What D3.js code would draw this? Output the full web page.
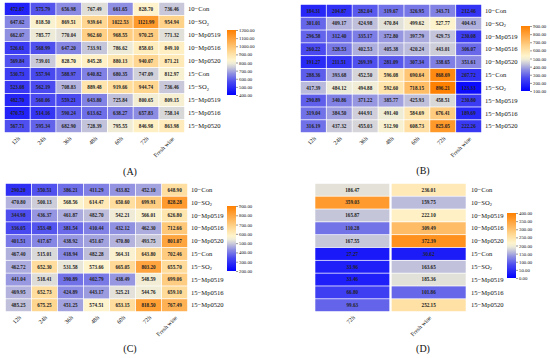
<!DOCTYPE html>
<html>
<head>
<meta charset="utf-8">
<script src="https://cdn.jsdelivr.net/npm/d3@7"></script>
<style>
  body { margin: 0; background: #fff; }
  text { font-family: "Liberation Serif", "DejaVu Serif", serif; fill: #111; }
</style>
</head>
<body>
<div id="chart"></div>
<script>
var rows = ["10-Con", "10-SO2", "10-Mp0519", "10-Mp0516", "10-Mp0520",
            "15-Con", "15-SO2", "15-Mp0519", "15-Mp0516", "15-Mp0520"];
var cols = ["12h", "24h", "36h", "48h", "60h", "72h", "Fresh wine"];
var colsD = ["72h", "Fresh wine"];

var valuesA = [
  [472.07, 575.79, 656.98, 767.49, 661.65, 828.70, 736.46],
  [647.62, 818.50, 869.51, 939.64, 1022.53, 1121.99, 954.94],
  [662.07, 785.77, 770.04, 962.60, 968.55, 970.25, 771.32],
  [526.61, 568.99, 647.20, 733.91, 786.62, 858.03, 849.10],
  [569.84, 739.01, 828.70, 845.28, 880.13, 940.07, 871.21],
  [530.73, 557.94, 588.97, 640.82, 680.35, 747.09, 812.97],
  [523.08, 562.19, 708.83, 889.48, 919.66, 944.74, 736.46],
  [482.70, 560.06, 559.21, 643.80, 725.84, 800.65, 809.15],
  [470.73, 514.16, 590.24, 613.62, 638.27, 657.83, 758.14],
  [567.71, 595.34, 682.90, 728.39, 795.55, 846.98, 863.98]
];
var valuesB = [
  [184.31, 204.87, 282.04, 319.67, 326.95, 343.71, 212.46],
  [301.01, 409.17, 424.98, 470.84, 499.62, 527.77, 404.43],
  [296.58, 312.40, 335.17, 372.80, 397.79, 429.73, 230.08],
  [260.22, 328.53, 402.53, 405.38, 420.24, 443.01, 306.07],
  [191.27, 211.51, 269.39, 281.09, 307.34, 338.65, 351.61],
  [288.36, 393.68, 452.50, 596.08, 690.64, 868.69, 207.72],
  [417.39, 484.12, 494.88, 592.60, 718.15, 896.21, 123.33],
  [290.89, 340.86, 371.22, 385.77, 425.93, 458.51, 230.80],
  [319.04, 384.50, 444.91, 491.40, 584.69, 676.41, 189.69],
  [316.19, 437.32, 455.03, 512.90, 608.73, 825.05, 222.26]
];
var valuesC = [
  [290.20, 350.51, 386.21, 411.29, 433.82, 452.10, 648.90],
  [470.80, 500.13, 568.56, 614.47, 650.60, 699.91, 828.28],
  [344.98, 436.37, 461.87, 482.70, 542.21, 566.01, 626.80],
  [336.05, 353.48, 381.54, 410.44, 432.12, 462.30, 712.66],
  [401.51, 417.67, 438.92, 451.67, 470.80, 493.75, 801.07],
  [467.40, 515.01, 418.94, 482.28, 564.31, 643.80, 702.46],
  [462.72, 652.30, 531.58, 573.66, 665.05, 803.20, 655.70],
  [441.04, 518.41, 390.89, 402.79, 438.49, 548.59, 699.06],
  [469.95, 652.73, 424.89, 443.17, 525.21, 544.76, 659.10],
  [485.25, 675.25, 451.25, 574.51, 653.15, 818.50, 767.49]
];
var valuesD = [
  [186.47, 236.01],
  [359.03, 159.75],
  [165.87, 222.10],
  [110.28, 309.49],
  [167.55, 372.39],
  [27.27, 30.62],
  [33.96, 163.65],
  [33.46, 185.36],
  [66.80, 101.86],
  [99.63, 252.15]
];
var ticksA = [400, 500, 600, 700, 800, 900, 1000, 1100, 1200];
var ticksB = [100, 200, 300, 400, 500, 600, 700, 800, 900];
var ticksC = [200, 300, 400, 500, 600, 700, 800, 900];
var ticksD = [0, 50, 100, 150, 200, 250, 300, 350, 400];

// blue -> grey -> cream -> orange
var stops = [
  [0.00, "#0000ff"],
  [0.20, "#4a4af0"],
  [0.33, "#9090e2"],
  [0.42, "#c8c8da"],
  [0.48, "#ecead8"],
  [0.54, "#fff4cc"],
  [0.68, "#ffd690"],
  [0.84, "#ffaa48"],
  [1.00, "#ff8000"]
];

var svg = d3.select("#chart").append("svg")
    .attr("width", 550)
    .attr("height", 358);

var defs = svg.append("defs");

function drawPanel(p) {
    var g = svg.append("g");
    var min = p.ticks[0], max = p.ticks[p.ticks.length - 1];
    var color = d3.scaleLinear()
        .domain(stops.map(function (s) { return min + s[0] * (max - min); }))
        .range(stops.map(function (s) { return s[1]; }))
        .interpolate(d3.interpolateRgb)
        .clamp(true);

    var x = d3.scaleBand().domain(p.cols).range([p.x0, p.x1]).padding(0.03);
    var y = d3.scaleBand().domain(rows).range([p.y0, p.y1]).padding(0.06);

    var cells = [];
    p.values.forEach(function (r, i) {
        r.forEach(function (v, j) { cells.push({ row: rows[i], col: p.cols[j], v: v }); });
    });

    g.selectAll(".cell")
        .data(cells)
        .enter().append("rect")
        .attr("class", "cell")
        .attr("x", function (d) { return x(d.col); })
        .attr("y", function (d) { return y(d.row); })
        .attr("width", x.bandwidth())
        .attr("height", y.bandwidth())
        .attr("fill", function (d) { return color(d.v); });

    g.selectAll(".val")
        .data(cells)
        .enter().append("text")
        .attr("class", "val")
        .attr("x", function (d) { return x(d.col) + x.bandwidth() / 2; })
        .attr("y", function (d) { return y(d.row) + y.bandwidth() / 2 + 1.8; })
        .attr("text-anchor", "middle")
        .attr("font-size", 5.2)
        .attr("font-weight", "bold")
        .style("fill", "#222")
        .text(function (d) { return d.v.toFixed(2); });

    // row labels
    var rl = g.selectAll(".rowlab")
        .data(rows)
        .enter().append("text")
        .attr("class", "rowlab")
        .attr("x", p.x1 + 3)
        .attr("y", function (d) { return y(d) + y.bandwidth() / 2 + 2.2; })
        .attr("font-size", 6.6);
    rl.each(function (d) {
        var t = d3.select(this);
        var parts = d.split("-");
        t.append("tspan").text(parts[0] + "\u2212");
        if (parts[1] === "SO2") {
            t.append("tspan").text("SO");
            t.append("tspan").attr("font-size", 4.5).attr("dy", 1.5).text("2");
        } else {
            t.append("tspan").text(parts[1]);
        }
    });

    // column labels
    g.selectAll(".collab")
        .data(p.cols)
        .enter().append("text")
        .attr("class", "collab")
        .attr("text-anchor", "end")
        .attr("font-size", 6)
        .attr("transform", function (d) {
            return "translate(" + (x(d) + x.bandwidth() / 2 + 3) + "," + (p.y1 + 6) + ") rotate(-45)";
        })
        .text(function (d) { return d; });

    // colour bar
    var gid = "grad" + p.name;
    var grad = defs.append("linearGradient")
        .attr("id", gid)
        .attr("x1", 0).attr("y1", 1).attr("x2", 0).attr("y2", 0);
    grad.selectAll("stop")
        .data(stops)
        .enter().append("stop")
        .attr("offset", function (s) { return s[0]; })
        .attr("stop-color", function (s) { return s[1]; });

    g.append("rect")
        .attr("x", p.cbx)
        .attr("y", p.cby0)
        .attr("width", 9)
        .attr("height", p.cby1 - p.cby0)
        .attr("fill", "url(#" + gid + ")");

    var cs = d3.scaleLinear().domain([min, max]).range([p.cby1, p.cby0]);
    var ax = g.append("g")
        .attr("transform", "translate(" + (p.cbx + 9) + ",0)")
        .call(d3.axisRight(cs).tickValues(p.ticks).tickSize(2).tickFormat(d3.format(".2f")));
    ax.select(".domain").remove();
    ax.selectAll("text")
        .attr("font-size", 4.8)
        .attr("x", 3)
        .style("font-family", "Liberation Serif, serif");
    ax.selectAll("line").attr("stroke", "#333").attr("stroke-width", 0.5);

    // panel label
    g.append("text")
        .attr("x", p.lx)
        .attr("y", p.ly)
        .attr("text-anchor", "middle")
        .attr("font-size", 10)
        .text("(" + p.name + ")");
}

drawPanel({ name: "A", values: valuesA, cols: cols, ticks: ticksA,
    x0: 4, x1: 185, y0: 2, y1: 133, cbx: 227, cby0: 30, cby1: 95, lx: 130, ly: 175 });
drawPanel({ name: "B", values: valuesB, cols: cols, ticks: ticksB,
    x0: 300, x1: 482, y0: 4, y1: 133, cbx: 521, cby0: 26, cby1: 91, lx: 423, ly: 174 });
drawPanel({ name: "C", values: valuesC, cols: cols, ticks: ticksC,
    x0: 5, x1: 188, y0: 183, y1: 312, cbx: 227, cby0: 206, cby1: 271, lx: 130, ly: 352 });
drawPanel({ name: "D", values: valuesD, cols: colsD, ticks: ticksD,
    x0: 313, x1: 468, y0: 183, y1: 312, cbx: 507, cby0: 213, cby1: 278, lx: 423, ly: 352 });
</script>
</body>
</html>
